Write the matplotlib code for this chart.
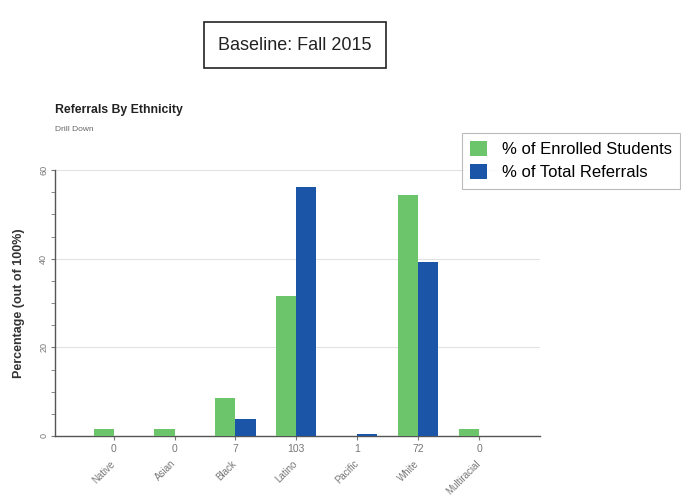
import matplotlib.pyplot as plt
from matplotlib.ticker import MultipleLocator
import matplotlib.transforms as mtransforms

plt.rcParams["font.family"] = ["Liberation Sans", "DejaVu Sans"]

categories = ["Native", "Asian", "Black", "Latino", "Pacific", "White", "Multiracial"]
referral_counts = [0, 0, 7, 103, 1, 72, 0]
enrolled_pct = [1.6, 1.6, 8.6, 31.6, 0.0, 54.4, 1.6]
referral_pct = [0.0, 0.0, 3.8, 56.3, 0.5, 39.3, 0.0]

green = "#6cc56a"
blue = "#1b55a8"

fig = plt.figure(figsize=(6.81, 4.96), dpi=100)
ax = fig.add_axes([0.081, 0.121, 0.712, 0.536])

x = list(range(len(categories)))
w = 0.33
ax.bar([i - w / 2 for i in x], enrolled_pct, width=w, color=green, label="% of Enrolled Students", zorder=3)
ax.bar([i + w / 2 for i in x], referral_pct, width=w, color=blue, label="% of Total Referrals", zorder=3)

ax.set_xlim(-0.96, 7.0)
ax.set_ylim(0, 60)
ax.set_yticks([0, 20, 40, 60])
ax.yaxis.set_minor_locator(MultipleLocator(5))
ax.grid(axis="y", color="#e2e2e2", lw=0.8, zorder=0)
for s in ["top", "right"]:
    ax.spines[s].set_visible(False)
for s in ["left", "bottom"]:
    ax.spines[s].set_color("#555555")
    ax.spines[s].set_linewidth(1.0)

ax.tick_params(axis="y", which="both", length=3, color="#777777", labelsize=6.5,
               labelcolor="#777777", labelrotation=90, pad=2)
ax.tick_params(axis="x", length=3, color="#777777", labelsize=7.5, labelcolor="#777777", pad=3)
ax.set_xticks(x)
ax.set_xticklabels([str(c) for c in referral_counts])
for lab in ax.get_yticklabels():
    lab.set_va("center")

trans = mtransforms.blended_transform_factory(ax.transData, ax.transAxes)
for i, name in enumerate(categories):
    ax.text(i + 0.05, -0.085, name, transform=trans, rotation=45, ha="right", va="top",
            fontsize=7, color="#777777", clip_on=False)

ax.set_ylabel("Percentage (out of 100%)", fontsize=9, fontweight="bold", color="#333333", labelpad=10)

fig.text(0.081, 0.778, "Referrals By Ethnicity", fontsize=8.8, fontweight="bold",
         color="#222222", va="center")
fig.text(0.081, 0.738, "Drill Down", fontsize=6, color="#666666", va="center")

fig.text(0.433, 0.909, "Baseline: Fall 2015", fontsize=13, ha="center", va="center",
         color="#222222",
         bbox=dict(boxstyle="square,pad=0.8", fc="white", ec="#222222", lw=1.2))

leg = fig.legend(loc="upper left", bbox_to_anchor=(0.678, 0.732), borderaxespad=0, frameon=True,
                 fancybox=False, edgecolor="#aaaaaa", handlelength=1.0, handleheight=1.0,
                 borderpad=0.5, labelspacing=0.4, handletextpad=0.9, fontsize=12)
leg.get_frame().set_linewidth(0.8)

fig.savefig("out.png", dpi=100)
